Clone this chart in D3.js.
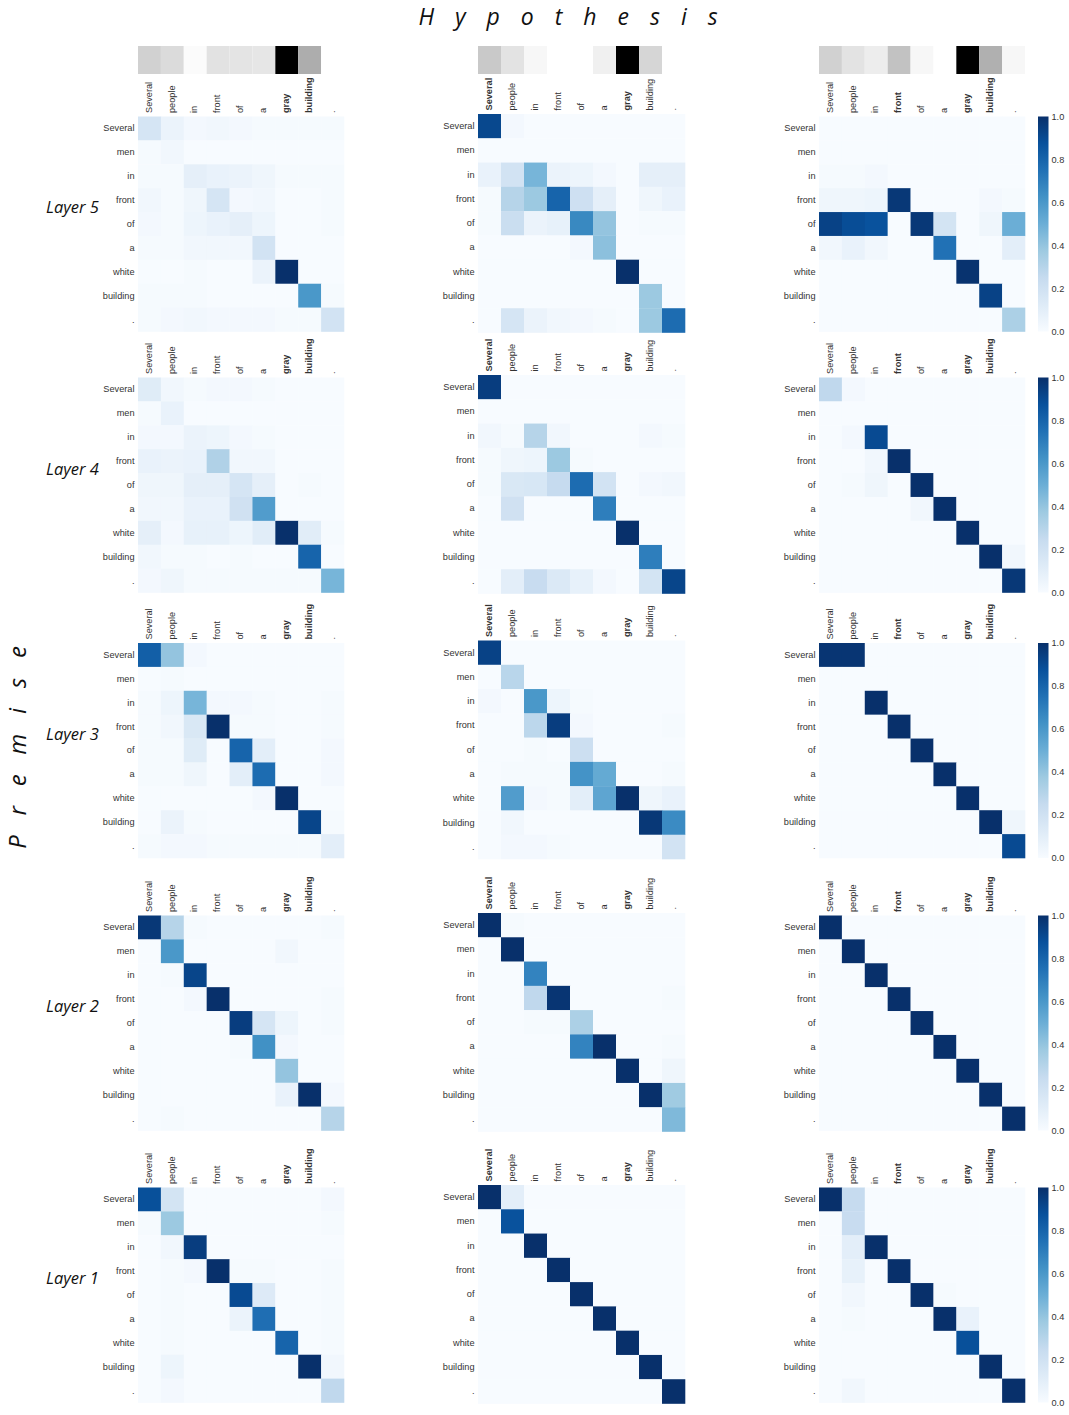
<!DOCTYPE html>
<html>
<head>
<meta charset="utf-8">
<script src="https://cdn.jsdelivr.net/npm/d3@7"></script>
<style>
  html, body { margin: 0; padding: 0; background: #fff; }
  .tick text { font-family: "Liberation Sans", Arial, sans-serif; font-size: 9.2px; fill: #333; }
  .side { font-family: "Open Sans", sans-serif; font-style: italic; fill: #111; }
</style>
</head>
<body>
<div id="chart"></div>
<script>
const premiseWords = ['Several', 'men', 'in', 'front', 'of', 'a', 'white', 'building', '.'];
const hypothesisWords = ['Several', 'people', 'in', 'front', 'of', 'a', 'gray', 'building', '.'];
const layerNames = ['Layer 5', 'Layer 4', 'Layer 3', 'Layer 2', 'Layer 1'];
const colorbarTicks = [0, 0.2, 0.4, 0.6, 0.8, 1];

// gray strip above each column
const stripA = [0.18, 0.14, 0.015, 0.115, 0.105, 0.1, 1, 0.32, 0];
const stripB = [0.21, 0.11, 0.03, 0, 0, 0.06, 1, 0.16, 0];
const stripC = [0.18, 0.11, 0.07, 0.24, 0.03, 0, 1, 0.31, 0.03];

const layer5a = [
  [0.17, 0.06, 0.02, 0.03, 0.02, 0.01, 0.01, 0.01, 0.01],
  [0.01, 0.03, 0, 0, 0, 0, 0, 0, 0],
  [0.01, 0.01, 0.09, 0.07, 0.06, 0.04, 0.01, 0.01, 0.01],
  [0.03, 0.01, 0.04, 0.17, 0.02, 0.03, 0, 0, 0.01],
  [0.02, 0.01, 0.05, 0.07, 0.09, 0.05, 0, 0, 0.01],
  [0.01, 0.01, 0.03, 0.03, 0.03, 0.19, 0, 0, 0],
  [0, 0, 0.01, 0, 0, 0.06, 1, 0, 0],
  [0.01, 0.01, 0.01, 0, 0, 0, 0, 0.6, 0.01],
  [0.01, 0.02, 0.03, 0.02, 0.02, 0.02, 0.01, 0.01, 0.19]
];
const layer5b = [
  [0.91, 0.02, 0, 0, 0, 0, 0, 0, 0],
  [0, 0, 0, 0, 0, 0, 0, 0, 0],
  [0.07, 0.19, 0.47, 0.06, 0.05, 0.02, 0, 0.09, 0.09],
  [0.01, 0.3, 0.38, 0.8, 0.21, 0.09, 0, 0.04, 0.07],
  [0.01, 0.23, 0.06, 0.08, 0.66, 0.4, 0, 0.01, 0.01],
  [0, 0, 0, 0, 0.02, 0.42, 0, 0, 0],
  [0, 0, 0, 0, 0, 0, 1, 0, 0],
  [0, 0, 0, 0, 0, 0, 0, 0.38, 0],
  [0, 0.17, 0.06, 0.03, 0.02, 0.01, 0, 0.38, 0.77]
];
const layer5c = [
  [0, 0, 0, 0, 0, 0, 0, 0, 0],
  [0, 0, 0, 0, 0, 0, 0, 0, 0],
  [0.01, 0.01, 0.02, 0, 0, 0, 0, 0, 0],
  [0.04, 0.04, 0.05, 0.97, 0, 0, 0, 0.02, 0.01],
  [0.93, 0.89, 0.87, 0, 0.97, 0.18, 0, 0.04, 0.5],
  [0.03, 0.07, 0.03, 0, 0, 0.75, 0, 0, 0.1],
  [0, 0, 0, 0, 0, 0, 0.99, 0, 0],
  [0, 0, 0, 0, 0, 0, 0, 0.93, 0],
  [0, 0, 0, 0, 0, 0, 0, 0, 0.33]
];
const layer4a = [
  [0.12, 0.03, 0.01, 0.02, 0.02, 0.01, 0, 0, 0],
  [0.01, 0.07, 0, 0, 0, 0, 0, 0, 0],
  [0.02, 0.02, 0.06, 0.05, 0.02, 0.01, 0, 0, 0],
  [0.07, 0.06, 0.07, 0.32, 0.03, 0.03, 0, 0, 0],
  [0.04, 0.04, 0.09, 0.09, 0.17, 0.09, 0, 0.01, 0],
  [0.03, 0.03, 0.07, 0.07, 0.2, 0.58, 0, 0, 0],
  [0.09, 0.02, 0.08, 0.08, 0.05, 0.11, 1, 0.11, 0.01],
  [0.03, 0.01, 0.01, 0, 0.01, 0, 0, 0.8, 0],
  [0.02, 0.04, 0.01, 0.01, 0.01, 0.01, 0.01, 0.01, 0.47]
];
const layer4b = [
  [0.95, 0, 0, 0, 0, 0, 0, 0, 0],
  [0, 0, 0, 0, 0, 0, 0, 0, 0],
  [0.03, 0.01, 0.3, 0.03, 0, 0, 0, 0.02, 0.01],
  [0.01, 0.04, 0.05, 0.38, 0.01, 0, 0, 0, 0],
  [0.01, 0.15, 0.16, 0.25, 0.77, 0.19, 0, 0.02, 0.03],
  [0, 0.2, 0, 0, 0, 0.7, 0, 0, 0],
  [0, 0, 0, 0, 0, 0, 1, 0, 0],
  [0, 0, 0, 0, 0, 0, 0, 0.7, 0],
  [0, 0.1, 0.24, 0.14, 0.08, 0.02, 0, 0.18, 0.92]
];
const layer4c = [
  [0.27, 0.02, 0, 0, 0, 0, 0, 0, 0],
  [0, 0, 0, 0, 0, 0, 0, 0, 0],
  [0, 0.02, 0.9, 0, 0, 0, 0, 0, 0],
  [0, 0, 0.03, 1, 0, 0, 0, 0, 0],
  [0, 0.01, 0.04, 0, 1, 0, 0, 0, 0],
  [0, 0, 0, 0, 0.03, 1, 0, 0, 0],
  [0, 0, 0, 0, 0, 0, 1, 0, 0],
  [0, 0, 0, 0, 0, 0, 0, 1, 0.03],
  [0, 0, 0, 0, 0, 0, 0, 0, 0.97]
];
const layer3a = [
  [0.82, 0.4, 0.02, 0, 0, 0, 0, 0, 0],
  [0, 0.01, 0, 0, 0, 0, 0, 0, 0],
  [0.01, 0.05, 0.47, 0.02, 0.02, 0.01, 0, 0, 0.01],
  [0.01, 0.03, 0.15, 1, 0.01, 0.01, 0, 0, 0.01],
  [0.01, 0.01, 0.12, 0, 0.8, 0.1, 0, 0, 0.02],
  [0.01, 0.01, 0.04, 0, 0.1, 0.77, 0, 0, 0.02],
  [0, 0, 0, 0, 0, 0.02, 1, 0, 0],
  [0, 0.06, 0.01, 0, 0, 0, 0, 0.92, 0.01],
  [0.01, 0.02, 0.02, 0.01, 0.01, 0.01, 0.01, 0.01, 0.1]
];
const layer3b = [
  [0.93, 0, 0, 0, 0, 0, 0, 0, 0],
  [0, 0.29, 0, 0, 0, 0, 0, 0, 0],
  [0.02, 0, 0.6, 0.05, 0.01, 0, 0, 0, 0],
  [0, 0, 0.28, 0.95, 0.02, 0, 0, 0, 0.01],
  [0, 0, 0.01, 0, 0.22, 0, 0, 0, 0],
  [0, 0.01, 0.01, 0.01, 0.62, 0.52, 0, 0, 0.01],
  [0, 0.58, 0.02, 0.01, 0.1, 0.54, 1, 0.04, 0.07],
  [0, 0.03, 0, 0, 0, 0, 0, 0.97, 0.65],
  [0, 0.02, 0.02, 0.01, 0, 0, 0, 0, 0.19]
];
const layer3c = [
  [0.98, 0.98, 0, 0, 0, 0, 0, 0, 0],
  [0, 0, 0, 0, 0, 0, 0, 0, 0],
  [0, 0, 1, 0, 0, 0, 0, 0, 0],
  [0, 0, 0, 1, 0, 0, 0, 0, 0],
  [0, 0, 0, 0, 1, 0, 0, 0, 0],
  [0, 0, 0, 0, 0, 1, 0, 0, 0],
  [0, 0, 0, 0, 0, 0, 1, 0, 0],
  [0, 0, 0, 0, 0, 0, 0, 1, 0.04],
  [0, 0, 0, 0, 0, 0, 0, 0, 0.9]
];
const layer2a = [
  [0.97, 0.3, 0.01, 0, 0, 0, 0, 0, 0.01],
  [0, 0.6, 0, 0, 0, 0, 0.03, 0, 0],
  [0, 0.01, 0.92, 0, 0, 0, 0, 0, 0],
  [0, 0, 0.02, 1, 0, 0, 0, 0, 0.01],
  [0, 0, 0, 0, 0.95, 0.17, 0.05, 0, 0.01],
  [0, 0, 0, 0, 0.01, 0.63, 0.02, 0, 0],
  [0, 0, 0, 0, 0, 0, 0.4, 0, 0],
  [0, 0, 0, 0, 0, 0, 0.07, 1, 0.02],
  [0, 0.01, 0, 0, 0, 0, 0, 0, 0.3]
];
const layer2b = [
  [1, 0.01, 0, 0, 0, 0, 0, 0, 0],
  [0, 1, 0, 0, 0, 0, 0, 0, 0],
  [0, 0, 0.68, 0, 0, 0, 0, 0, 0],
  [0, 0, 0.27, 0.98, 0, 0, 0, 0, 0.01],
  [0, 0, 0.01, 0.01, 0.33, 0, 0, 0, 0],
  [0, 0, 0, 0, 0.68, 1, 0, 0, 0.01],
  [0, 0, 0, 0, 0, 0, 1, 0, 0.04],
  [0, 0, 0, 0, 0, 0, 0, 1, 0.37],
  [0, 0, 0, 0, 0, 0, 0, 0, 0.45]
];
const layer2c = [
  [1, 0, 0, 0, 0, 0, 0, 0, 0],
  [0, 1, 0, 0, 0, 0, 0, 0, 0],
  [0, 0, 1, 0, 0, 0, 0, 0, 0],
  [0, 0, 0, 1, 0, 0, 0, 0, 0],
  [0, 0, 0, 0, 1, 0, 0, 0, 0],
  [0, 0, 0, 0, 0, 1, 0, 0, 0],
  [0, 0, 0, 0, 0, 0, 1, 0, 0],
  [0, 0, 0, 0, 0, 0, 0, 1, 0],
  [0, 0, 0, 0, 0, 0, 0, 0, 1]
];
const layer1a = [
  [0.88, 0.18, 0, 0, 0, 0, 0, 0, 0.02],
  [0.01, 0.38, 0, 0, 0, 0, 0, 0, 0.01],
  [0, 0.03, 0.95, 0, 0, 0, 0, 0, 0],
  [0, 0.01, 0.02, 1, 0.01, 0.01, 0, 0, 0.01],
  [0, 0.01, 0, 0, 0.9, 0.13, 0, 0, 0.01],
  [0, 0.01, 0, 0, 0.06, 0.76, 0, 0, 0.01],
  [0, 0.01, 0, 0, 0, 0, 0.8, 0, 0.01],
  [0, 0.05, 0, 0, 0, 0, 0, 1, 0.03],
  [0, 0.02, 0, 0, 0, 0, 0, 0, 0.27]
];
const layer1b = [
  [1, 0.1, 0, 0, 0, 0, 0, 0, 0],
  [0, 0.87, 0, 0, 0, 0, 0, 0, 0],
  [0, 0, 1, 0, 0, 0, 0, 0, 0],
  [0, 0, 0, 1, 0, 0, 0, 0, 0],
  [0, 0, 0, 0, 1, 0, 0, 0, 0],
  [0, 0, 0, 0, 0, 1, 0, 0, 0],
  [0, 0, 0, 0, 0, 0, 1, 0, 0],
  [0, 0, 0, 0, 0, 0, 0, 1, 0],
  [0, 0, 0, 0, 0, 0, 0, 0, 1]
];
const layer1c = [
  [1, 0.25, 0, 0, 0, 0, 0, 0, 0],
  [0, 0.24, 0, 0, 0, 0, 0, 0, 0],
  [0, 0.1, 1, 0, 0, 0, 0, 0, 0],
  [0, 0.08, 0, 1, 0, 0, 0, 0, 0],
  [0, 0.03, 0, 0, 1, 0.01, 0, 0, 0],
  [0, 0.01, 0, 0, 0, 1, 0.07, 0, 0],
  [0, 0, 0, 0, 0, 0, 0.88, 0, 0],
  [0, 0, 0, 0, 0, 0, 0, 1, 0],
  [0, 0.03, 0, 0, 0, 0, 0, 0, 1]
];

const strips = [stripA, stripB, stripC];
const layers = [
  [layer5a, layer5b, layer5c],
  [layer4a, layer4b, layer4c],
  [layer3a, layer3b, layer3c],
  [layer2a, layer2b, layer2c],
  [layer1a, layer1b, layer1c]
];

// panel layout
const colLeft = [138, 478, 819];
const colWidth = [206, 207, 206];
const rowTop = [116.5, 377.5, 643, 915.5, 1187.5];
const rowHeight = 215;
const layerLabelY = [208, 470, 735, 1007, 1279];

const svg = d3.select('#chart')
  .append('svg')
  .attr('width', 1069)
  .attr('height', 1415)
  .style('display', 'block');

// same stops matplotlib uses for Blues
const blues = d3.scaleLinear()
  .domain(d3.range(9).map((i) => i / 8))
  .range(d3.schemeBlues[9]);
const grays = d3.scaleLinear().domain([0, 1]).range(['#fff', '#000']);

const defs = svg.append('defs');
const grad = defs.append('linearGradient')
  .attr('id', 'bluesBar')
  .attr('x1', 0).attr('y1', 1).attr('x2', 0).attr('y2', 0);
blues.domain().forEach((d) => {
  grad.append('stop').attr('offset', d).attr('stop-color', blues(d));
});

// titles
svg.append('text')
  .attr('class', 'side')
  .attr('x', 568)
  .attr('y', 24.7)
  .attr('text-anchor', 'middle')
  .style('font-size', '23px')
  .style('word-spacing', '15px')
  .text('H y p o t h e s i s');

svg.append('text')
  .attr('class', 'side')
  .attr('transform', 'translate(26,747.5) rotate(-90)')
  .attr('text-anchor', 'middle')
  .style('font-size', '24px')
  .style('word-spacing', '13.5px')
  .text('P r e m i s e');

layerNames.forEach((name, i) => {
  svg.append('text')
    .attr('class', 'side')
    .attr('x', 46)
    .attr('y', layerLabelY[i] + 5)
    .style('font-size', '16.5px')
    .text(name);
});

// gray strips on top
strips.forEach((strip, c) => {
  const x = d3.scaleBand()
    .domain(d3.range(hypothesisWords.length))
    .range([colLeft[c], colLeft[c] + colWidth[c]]);
  svg.append('g')
    .selectAll('rect')
    .data(strip)
    .enter()
    .append('rect')
    .attr('x', (d, i) => x(i))
    .attr('y', 46)
    .attr('width', x.bandwidth())
    .attr('height', 28)
    .attr('fill', (d) => grays(d));
});

// heatmaps
layers.forEach((row, r) => {
  row.forEach((matrix, c) => {
    // middle column was pasted slightly bigger
    const growTop = c === 1 ? 2.5 : 0;
    const growBottom = c === 1 ? 1 : 0;
    const x = d3.scaleBand()
      .domain(d3.range(hypothesisWords.length))
      .range([colLeft[c], colLeft[c] + colWidth[c]]);
    const y = d3.scaleBand()
      .domain(d3.range(premiseWords.length))
      .range([rowTop[r] - growTop, rowTop[r] + rowHeight + growBottom]);

    const g = svg.append('g');

    g.selectAll('g.hm')
      .data(matrix)
      .enter()
      .append('g')
      .attr('class', 'hm')
      .selectAll('rect')
      .data((d, i) => d.map((v, j) => ({ i, j, v })))
      .enter()
      .append('rect')
      .attr('x', (d) => x(d.j))
      .attr('y', (d) => y(d.i))
      .attr('width', x.bandwidth() + 0.3)
      .attr('height', y.bandwidth() + 0.3)
      .attr('fill', (d) => blues(d.v));

    const yAxis = d3.axisLeft(y)
      .tickSize(0)
      .tickPadding(3.5)
      .tickFormat((i) => premiseWords[i]);
    g.append('g')
      .attr('transform', `translate(${colLeft[c]},0)`)
      .call(yAxis)
      .call((a) => a.select('.domain').remove());

    const xAxis = d3.axisTop(x)
      .tickSize(0)
      .tickFormat((i) => hypothesisWords[i]);
    g.append('g')
      .attr('transform', `translate(0,${rowTop[r] - growTop})`)
      .call(xAxis)
      .call((a) => a.select('.domain').remove())
      .selectAll('text')
      .attr('transform', 'rotate(-90)')
      .attr('text-anchor', 'start')
      .attr('x', 3.5)
      .attr('y', -1)
      .attr('dy', '.35em')
      .style('font-weight', (i) => (strips[c][i] > 0.2 ? 'bold' : 'normal'));

    // colorbar on the right column only
    if (c === 2) {
      const barX = 1038;
      const barScale = d3.scaleLinear()
        .domain([0, 1])
        .range([rowTop[r] + rowHeight, rowTop[r]]);
      g.append('rect')
        .attr('x', barX)
        .attr('y', rowTop[r])
        .attr('width', 10.5)
        .attr('height', rowHeight)
        .attr('fill', 'url(#bluesBar)');
      g.append('g')
        .attr('transform', `translate(${barX + 10.5},0)`)
        .call(d3.axisRight(barScale)
          .tickValues(colorbarTicks)
          .tickSize(0)
          .tickPadding(3)
          .tickFormat(d3.format('.1f')))
        .call((a) => a.select('.domain').remove());
    }
  });
});
</script>
</body>
</html>
